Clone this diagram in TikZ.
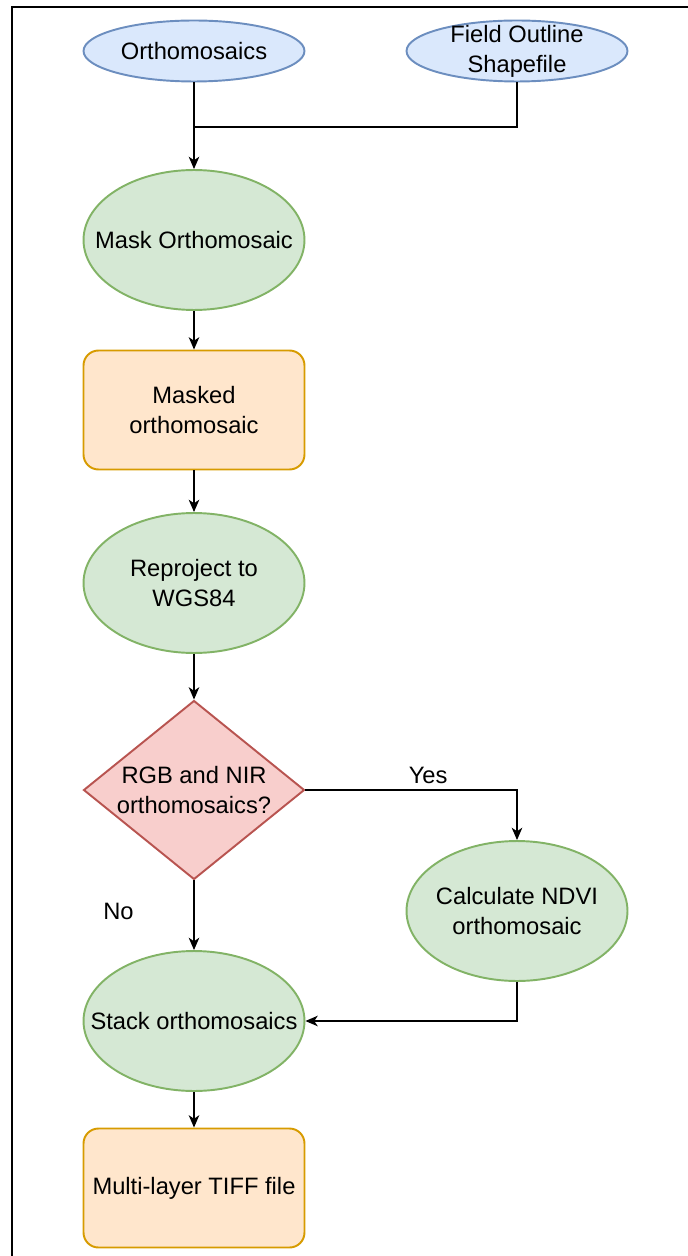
\documentclass[tikz,border=0pt]{standalone}
\usepackage{fontspec}
\setmainfont{Liberation Sans}
\usepackage{xcolor}
\usetikzlibrary{arrows.meta, shapes.geometric, positioning}

\definecolor{inblue}{HTML}{DAE8FC}
\definecolor{inblueline}{HTML}{6C8EBF}
\definecolor{stepgreen}{HTML}{D5E8D4}
\definecolor{stepgreenline}{HTML}{82B366}
\definecolor{outorange}{HTML}{FFE6CC}
\definecolor{outorangeline}{HTML}{D79B00}
\definecolor{askred}{HTML}{F8CECC}
\definecolor{askredline}{HTML}{B85450}

\begin{document}
\begin{tikzpicture}[x=0.02cm, y=-0.02cm,
  txt/.style={font=\fontsize{13.5}{17}\selectfont, align=center, inner sep=0pt},
  inputnode/.style={ellipse, draw=inblueline, fill=inblue, line width=1.1pt,
      minimum width=4.42cm, minimum height=1.22cm},
  procnode/.style={ellipse, draw=stepgreenline, fill=stepgreen, line width=1.1pt,
      minimum width=4.42cm, minimum height=2.8cm},
  datanode/.style={rectangle, rounded corners=8.5pt, draw=outorangeline, fill=outorange,
      line width=1.1pt, minimum width=4.42cm, minimum height=2.38cm, txt},
  asknode/.style={diamond, draw=askredline, fill=askred, line width=1.1pt,
      minimum width=4.42cm, minimum height=3.58cm, inner sep=0pt},
  link/.style={line width=0.75pt},
  arr/.style={link, -{Stealth[length=7pt, width=6pt, inset=2pt]}}]

  \useasboundingbox (0,0) rectangle (688,1256);
  \draw[line width=1.3pt] (12,1256) -- (12,7) -- (688,7);

  \node[inputnode, label={[txt]center:Orthomosaics}] (ortho) at (194,51) {};
  \node[inputnode, label={[txt]center:Field Outline\\Shapefile}] (field) at (517,51) {};
  \node[procnode, label={[txt]center:Mask Orthomosaic}] (mask) at (194,240) {};
  \node[datanode] (masked) at (194,410) {Masked\\orthomosaic};
  \node[procnode, label={[txt]center:Reproject to\\WGS84}] (reproj) at (194,583) {};
  \node[asknode, label={[txt]center:RGB and NIR\\orthomosaics?}] (bands) at (194,790) {};
  \node[procnode, label={[txt]center:Calculate NDVI\\orthomosaic}] (ndvi) at (517,911) {};
  \node[procnode, label={[txt]center:Stack orthomosaics}] (stack) at (194,1021) {};
  \node[datanode] (tiff) at (194,1188) {Multi-layer TIFF file};

  \coordinate (join) at (194,127);

  \draw[link] (field.south) |- (join);
  \draw[arr] (ortho.south) -- (mask.north);
  \draw[arr] (mask.south) -- (masked.north);
  \draw[arr] (masked.south) -- (reproj.north);
  \draw[arr] (reproj.south) -- (bands.north);
  \draw[arr] (bands.east) -| node[txt, pos=0.29, above=3pt] (yes) {Yes} (ndvi.north);
  \draw[arr] (bands.south) -- node[txt, pos=0.45, left=34pt] (no) {No} (stack.north);
  \draw[arr] (ndvi.south) |- (stack.east);
  \draw[arr] (stack.south) -- (tiff.north);
\end{tikzpicture}
\end{document}
